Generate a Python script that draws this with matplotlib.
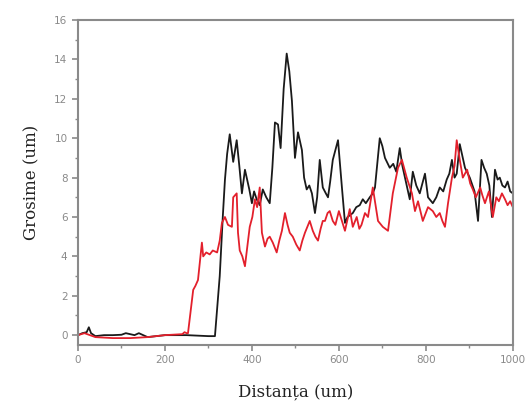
import numpy as np
import matplotlib.pyplot as plt

# Profil de grosime - doua probe
x_negru = [0, 10, 20, 25, 30, 40, 60, 80, 100, 110, 120, 130, 140, 150, 160, 200, 250, 300, 315,
           326, 333, 338, 343, 349, 357, 365, 371, 377, 384, 388, 394, 400, 405, 411, 418, 425, 433,
           441, 447, 453, 460, 466, 473, 480, 486, 492, 499, 506, 515, 520, 526, 532, 538, 545, 550,
           556, 563, 570, 575, 580, 586, 598, 607, 614, 620, 626, 632, 640, 648, 655, 662, 671,
           678, 683, 694, 700, 706, 717, 725, 732, 740, 746, 752, 763, 770, 778, 786, 798, 805,
           816, 824, 832, 840, 848, 854, 860, 866, 871, 878, 884, 890, 901, 912, 920, 928, 934,
           940, 946, 952, 959, 965, 970, 976, 982, 988, 994, 1000]
y_negru = [0.0, 0.1, 0.15, 0.4, 0.1, -0.05, 0.0, 0.0, 0.02, 0.1, 0.05, 0.0, 0.1, 0.0, -0.1, 0.0, 0.0, -0.05, -0.05,
           3.0, 6.0, 7.9, 9.2, 10.2, 8.8, 9.9, 8.6, 7.2, 8.4, 8.0, 7.4, 6.7, 7.3, 6.9, 6.6, 7.4, 7.0,
           6.7, 8.5, 10.8, 10.7, 9.5, 12.5, 14.3, 13.4, 11.9, 9.0, 10.3, 9.4, 8.0, 7.4, 7.6, 7.2, 6.2, 7.0,
           8.9, 7.5, 7.2, 7.0, 7.8, 8.9, 9.9, 7.5, 5.7, 6.0, 6.1, 6.2, 6.5, 6.6, 6.9, 6.7, 7.0,
           7.2, 7.5, 10.0, 9.6, 9.0, 8.5, 8.7, 8.3, 9.5, 8.6, 8.0, 6.9, 8.3, 7.6, 7.2, 8.2, 7.0,
           6.7, 7.0, 7.5, 7.3, 7.9, 8.2, 8.9, 8.0, 8.2, 9.7, 9.1, 8.5, 8.0, 7.3, 5.8, 8.9, 8.5,
           8.2, 7.6, 6.0, 8.4, 7.9, 8.0, 7.6, 7.5, 7.8, 7.3, 7.2]

x_rosu = [0, 15, 40, 80, 120, 160, 200, 240, 245, 250, 253, 265, 270, 276, 285, 288, 295, 303, 310,
          320, 326, 331, 338, 345, 354, 357, 365, 368, 372, 378, 384, 390, 395, 401, 407, 412, 418,
          423, 430, 436, 441, 448, 457, 463, 469, 476, 482, 487, 494, 502, 510, 516, 522, 533, 540,
          546, 552, 558, 563, 568, 574, 579, 586, 592, 600, 607, 614, 625, 632, 641, 647, 652, 660,
          667, 678, 690, 701, 713, 724, 736, 745, 756, 768, 775, 782, 793, 805, 816, 824, 832,
          838, 844, 851, 860, 866, 871, 878, 885, 895, 902, 908, 915, 925, 930, 936, 945, 954,
          962, 968, 975, 982, 988, 994, 1000]
y_rosu = [0.0, 0.1, -0.1, -0.15, -0.15, -0.1, 0.0, 0.05, 0.15, 0.1, 0.1, 2.3, 2.5, 2.8, 4.7, 4.0, 4.2, 4.1, 4.3,
          4.2, 4.8, 5.7, 6.0, 5.6, 5.5, 7.0, 7.2, 5.2, 4.3, 4.0, 3.5, 4.6, 5.5, 6.0, 6.9, 6.5, 7.5,
          5.2, 4.5, 4.9, 5.0, 4.7, 4.2, 4.8, 5.3, 6.2, 5.6, 5.2, 5.0, 4.6, 4.3, 4.8, 5.2, 5.8, 5.3,
          5.0, 4.8, 5.4, 5.8, 5.8, 6.2, 6.3, 5.8, 5.6, 6.3, 5.8, 5.3, 6.4, 5.5, 6.0, 5.4, 5.6, 6.2,
          6.0, 7.5, 5.8, 5.5, 5.3, 7.2, 8.5, 8.9, 8.0, 7.2, 6.3, 6.8, 5.8, 6.5, 6.3, 6.0, 6.2,
          5.8, 5.5, 6.7, 8.0, 8.6, 9.9, 8.9, 8.0, 8.4, 7.7, 7.4, 7.0, 7.5, 7.1, 6.7, 7.3, 6.0,
          7.0, 6.8, 7.2, 6.9, 6.6, 6.8, 6.5]

gri = '#8a8a8a'

fig = plt.figure(figsize=(5.29, 4.16), dpi=100)
ax = fig.add_axes([0.1474, 0.1707, 0.822, 0.781])

ax.plot(x_negru, y_negru, color='#1a1a1a', linewidth=1.3)
ax.plot(x_rosu, y_rosu, color='#e3202c', linewidth=1.3)

ax.set_xlim(0, 1000)
ax.set_ylim(-0.5, 16)
ax.set_xticks(np.arange(0, 1001, 200))
ax.set_xticks(np.arange(0, 1001, 100), minor=True)
ax.set_yticks(np.arange(0, 17, 2))
ax.set_yticks(np.arange(0, 17, 1), minor=True)

for s in ax.spines.values():
    s.set_color(gri)
    s.set_linewidth(1.5)
ax.tick_params(which='major', direction='out', length=4, width=1.2, color=gri,
               labelcolor=gri, labelsize=7.5)
ax.tick_params(which='minor', direction='out', length=2.5, width=1.0, color=gri)

ax.set_xlabel('Distanța (um)', family='DejaVu Serif', fontsize=12, color='#222222', labelpad=14)
ax.set_ylabel('Grosime (um)', family='DejaVu Serif', fontsize=12, color='#222222', labelpad=10)

fig.savefig('out.png', dpi=100)
